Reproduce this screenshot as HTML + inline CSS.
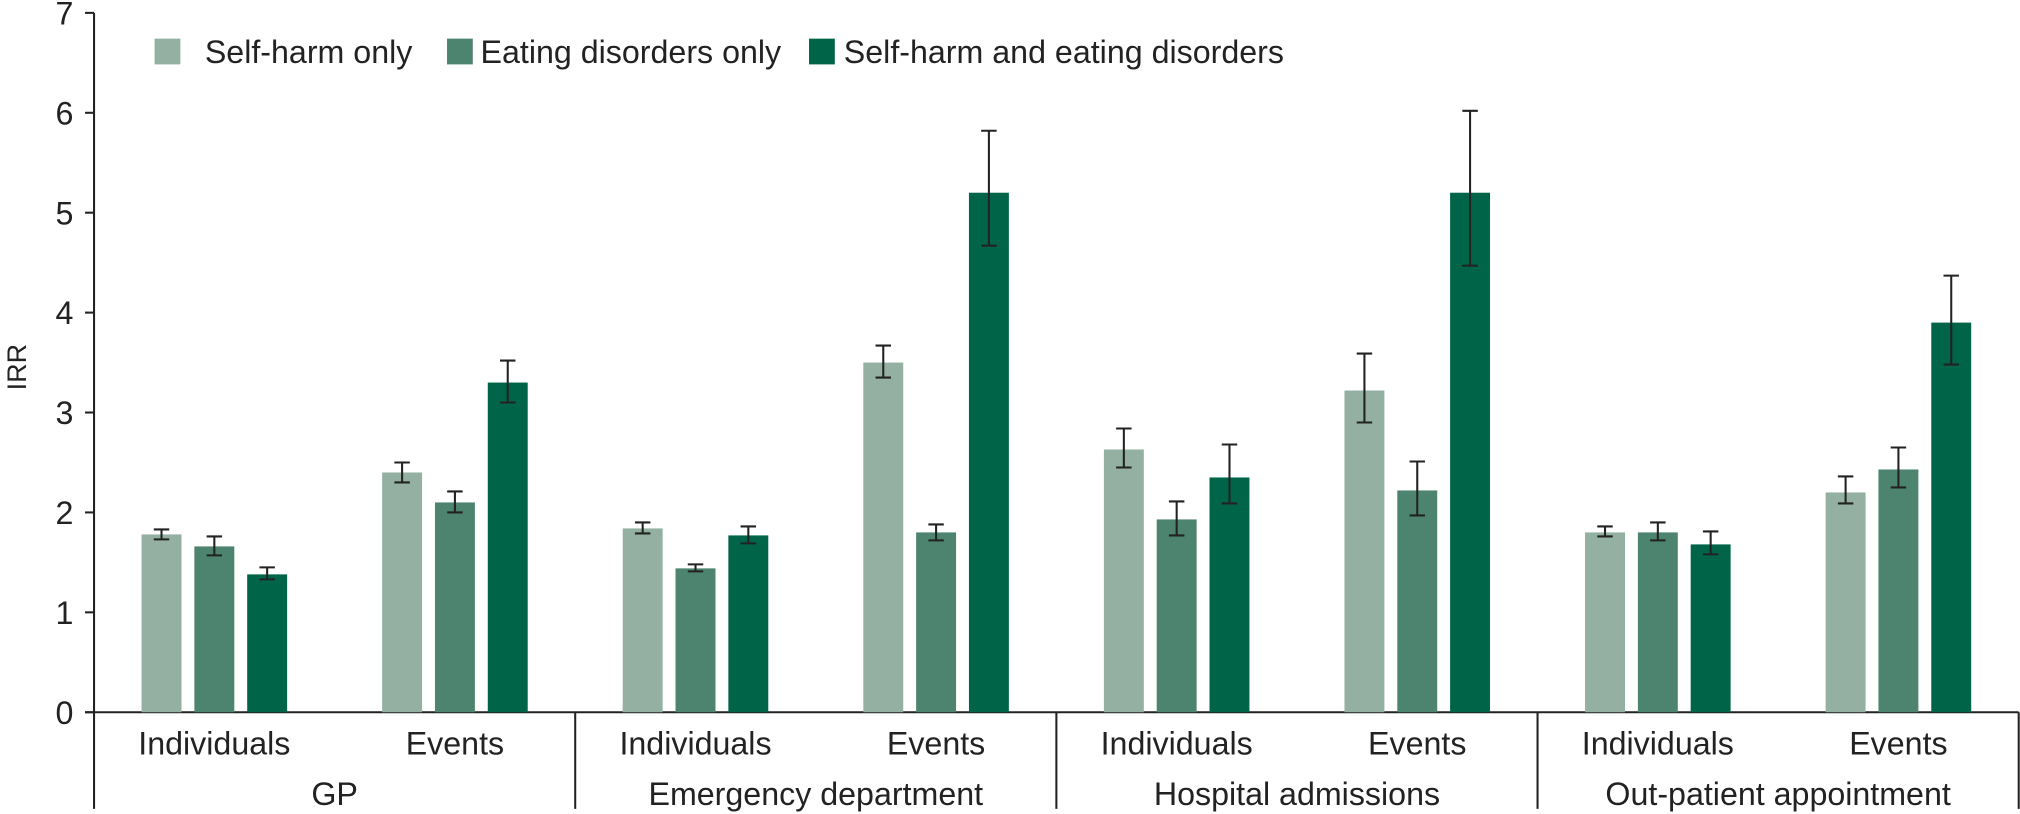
<!DOCTYPE html>
<html><head><meta charset="utf-8"><style>
html,body{margin:0;padding:0;background:#fff;}
svg{display:block;font-family:"Liberation Sans",sans-serif;}
</style></head><body>
<svg id="chart" width="2020" height="814" viewBox="0 0 1568 632" preserveAspectRatio="none" xmlns="http://www.w3.org/2000/svg">
<g id="axes"></g>
<g id="bars"></g>
<g id="legend"></g>
</svg>
<script>
const groups = ["GP","Emergency department","Hospital admissions","Out-patient appointment"];
const subgroups = ["Individuals","Events"];
const seriesNames = ["Self-harm only","Eating disorders only","Self-harm and eating disorders"];
const seriesColors = ["#93b0a2","#4d8470","#006548"];
const selfHarm = [1.78,2.4,1.84,3.5,2.63,3.22,1.8,2.2];
const selfHarmLo = [1.73,2.3,1.79,3.35,2.45,2.9,1.76,2.09];
const selfHarmHi = [1.83,2.5,1.9,3.67,2.84,3.59,1.86,2.36];
const eating = [1.66,2.1,1.44,1.8,1.93,2.22,1.8,2.43];
const eatingLo = [1.57,2.0,1.41,1.72,1.77,1.97,1.72,2.25];
const eatingHi = [1.76,2.21,1.48,1.88,2.11,2.51,1.9,2.65];
const both = [1.38,3.3,1.77,5.2,2.35,5.2,1.68,3.9];
const bothLo = [1.33,3.1,1.69,4.67,2.09,4.47,1.58,3.48];
const bothHi = [1.45,3.52,1.86,5.82,2.68,6.02,1.81,4.37];
const yTicks = [0,1,2,3,4,5,6,7];

const NS="http://www.w3.org/2000/svg";
const X0=73, X1=1567, Y0=553, Y7=10;
const y = v => Y0 - (v/7)*(Y0-Y7);
const gw = (X1-X0)/groups.length;
const subCenter = i => X0 + gw*Math.floor(i/2) + gw*(i%2===0?0.25:0.75);
const BW=31, PITCH=41, FS=25;
function el(tag, attrs, parent, text){const e=document.createElementNS(NS,tag);for(const k in attrs)e.setAttribute(k,attrs[k]);if(text!==undefined)e.textContent=text;parent.appendChild(e);return e;}
const axes=document.getElementById('axes'), bars=document.getElementById('bars'), legend=document.getElementById('legend');
const stroke={stroke:"#222","stroke-width":1.6,fill:"none"};

let a=el('line',Object.assign({x1:X0,y1:Y7,x2:X0,y2:628},stroke),axes);


a=el('line',Object.assign({x1:X0-7,y1:Y0,x2:X1,y2:Y0},stroke),axes);


yTicks.forEach(t=>{
  const tk=el('line',Object.assign({x1:X0-7,y1:y(t),x2:X0,y2:y(t)},stroke),axes);
  
  
  const lb=el('text',{x:57,y:y(t)+9,"text-anchor":"end","font-size":FS,fill:"#222"},axes,String(t));
  
  
});
const yt=el('text',{x:20,y:285,"text-anchor":"middle","font-size":21,fill:"#222",transform:"rotate(-90 20 285)"},axes,"IRR");


groups.forEach((g,gi)=>{
  const sx=X0+gw*(gi+1);
  const sep=el('line',Object.assign({x1:sx,y1:Y0,x2:sx,y2:628},stroke),axes);
  
  
  const gl=el('text',{x:X0+gw*(gi+0.5),y:625,"text-anchor":"middle","font-size":FS,fill:"#222"},axes,g);
  
  
  subgroups.forEach((s,si)=>{
    const sl=el('text',{x:subCenter(gi*2+si),y:586,"text-anchor":"middle","font-size":FS,fill:"#222"},axes,s);
    
    
  });
});
const vals=[selfHarm,eating,both], los=[selfHarmLo,eatingLo,bothLo], his=[selfHarmHi,eatingHi,bothHi];
for(let i=0;i<8;i++){
  for(let s=0;s<3;s++){
    const cx=subCenter(i)+(s-1)*PITCH;
    const r=el('rect',{x:cx-BW/2,y:y(vals[s][i]),width:BW,height:Y0-y(vals[s][i]),fill:seriesColors[s]},bars);
    
    
    const eb=el('path',{d:`M${cx-6},${y(his[s][i])}H${cx+6}M${cx},${y(his[s][i])}V${y(los[s][i])}M${cx-6},${y(los[s][i])}H${cx+6}`,stroke:"#222","stroke-width":1.6,fill:"none"},bars);
    
    
  }
}
const lx=[120,347,628];
const tx=[159,373,655];
seriesNames.forEach((n,i)=>{
  const sq=el('rect',{x:lx[i],y:30,width:20,height:20,fill:seriesColors[i]},legend);
  
  
  const t=el('text',{x:tx[i],y:49,"font-size":FS,fill:"#222"},legend,n);
  
  
});
</script>
</body></html>
